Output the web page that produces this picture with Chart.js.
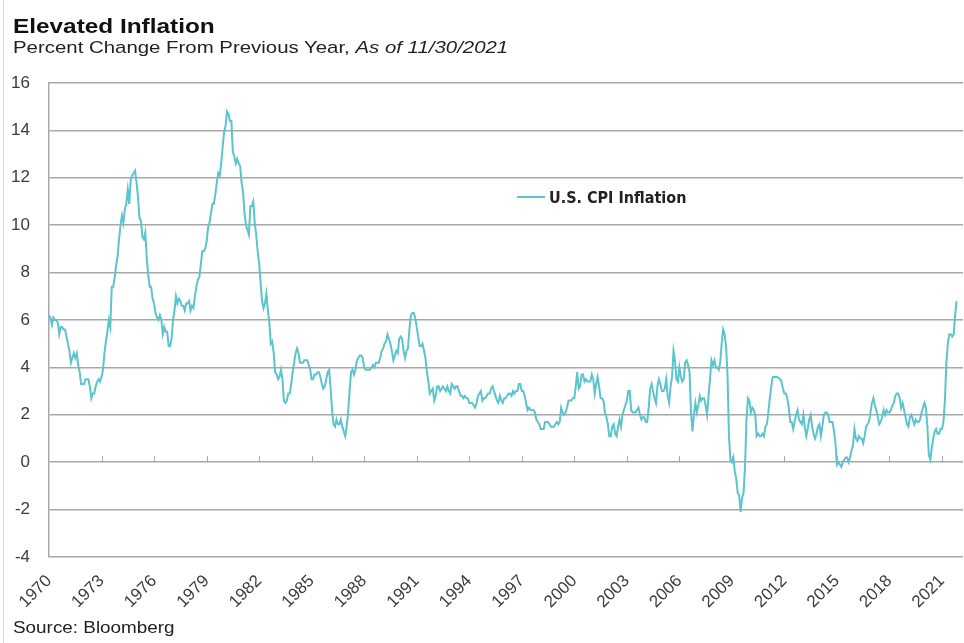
<!DOCTYPE html>
<html>
<head>
<meta charset="utf-8">
<script src="https://cdn.jsdelivr.net/npm/chart.js@4.4.0/dist/chart.umd.min.js"></script>
<style>
    body { margin: 0; background: #fff; font-family: 'Liberation Sans', Arial, sans-serif; }
    #wrap { position: relative; width: 964px; height: 643px; overflow: hidden; }
    #edge { position: absolute; left: 3px; top: 0; width: 1px; height: 643px; background: #d8d8d8; }
    .txt { position: absolute; left: 13px; line-height: 1; white-space: nowrap; transform-origin: 0 0; }
    .title { top: 15px; font-size: 21px; font-weight: bold; color: #111; transform: scaleX(1.16); }
    .subtitle { top: 39px; font-size: 17px; color: #222; transform: scaleX(1.2); }
    .source { top: 620px; font-size: 16px; color: #222; transform: scaleX(1.18); }
    .legend { position: absolute; left: 517px; top: 187px; height: 20px; display: flex; align-items: center; }
    .legend .swatch { width: 28px; height: 2px; margin-right: 4px; }
    .legend .label { font-family: 'Liberation Sans Narrow', 'DejaVu Sans Condensed', sans-serif; font-weight: bold; font-size: 16px; color: #222; }
</style>
</head>
<body>
<div id="wrap">
    <canvas id="cpi-chart" width="964" height="643"></canvas>
    <div id="edge"></div>
    <div class="txt title">Elevated Inflation</div>
    <div class="txt subtitle">Percent Change From Previous Year, <i>As of 11/30/2021</i></div>
    <div class="txt source">Source: Bloomberg</div>
    <div class="legend"><span class="swatch" id="legend-swatch"></span><span class="label" id="legend-label"></span></div>
</div>
<script>
// U.S. CPI, % change from previous year, monthly from Jan 1970 to Nov 2021
const startYear = 1970;
const seriesName = "U.S. CPI Inflation";

const cpi1970s = [
    6.2, 6.1, 5.8, 6.1, 6.0, 6.0, 5.9, 5.4, 5.7, 5.7, 5.6, 5.6,
    5.3, 5.0, 4.7, 4.2, 4.4, 4.6, 4.4, 4.6, 4.1, 3.8, 3.3, 3.3,
    3.3, 3.5, 3.5, 3.5, 3.2, 2.7, 2.9, 2.9, 3.2, 3.4, 3.5, 3.4,
    3.6, 3.9, 4.6, 5.1, 5.5, 6.0, 5.7, 7.4, 7.4, 7.8, 8.3, 8.7,
    9.4, 10.0, 10.4, 10.1, 10.7, 10.9, 11.5, 10.9, 11.9, 12.1, 12.2, 12.3,
    11.8, 11.2, 10.3, 10.2, 9.5, 9.4, 9.7, 8.6, 7.9, 7.4, 7.4, 6.9,
    6.7, 6.3, 6.1, 6.0, 6.2, 6.0, 5.4, 5.7, 5.5, 5.5, 4.9, 4.9,
    5.2, 6.0, 6.4, 7.0, 6.7, 6.9, 6.8, 6.6, 6.6, 6.4, 6.7, 6.7,
    6.8, 6.4, 6.6, 6.5, 7.0, 7.4, 7.7, 7.8, 8.3, 8.9, 8.9, 9.0,
    9.3, 9.9, 10.1, 10.5, 10.9, 10.9, 11.3, 11.8, 12.2, 12.1, 12.6, 13.3
];
const cpi1980s = [
    13.9, 14.2, 14.8, 14.7, 14.4, 14.4, 13.1, 12.9, 12.6, 12.8, 12.6, 12.5,
    11.8, 11.4, 10.5, 10.0, 9.8, 9.6, 10.8, 10.8, 11.0, 10.1, 9.6, 8.9,
    8.4, 7.6, 6.8, 6.5, 6.7, 7.1, 6.4, 5.9, 5.0, 5.1, 4.6, 3.8,
    3.7, 3.5, 3.6, 3.9, 3.5, 2.6, 2.5, 2.6, 2.9, 2.9, 3.3, 3.8,
    4.2, 4.6, 4.8, 4.6, 4.2, 4.2, 4.2, 4.3, 4.3, 4.3, 4.1, 3.9,
    3.5, 3.5, 3.7, 3.7, 3.8, 3.8, 3.6, 3.3, 3.1, 3.2, 3.5, 3.8,
    3.9, 3.1, 2.2, 1.6, 1.5, 1.8, 1.6, 1.6, 1.8, 1.5, 1.3, 1.1,
    1.5, 2.1, 3.0, 3.8, 3.9, 3.7, 3.9, 4.3, 4.4, 4.5, 4.5, 4.4,
    4.0, 3.9, 3.9, 3.9, 3.9, 4.0, 4.1, 4.0, 4.2, 4.2, 4.2, 4.4,
    4.7, 4.8, 5.0, 5.1, 5.4, 5.2, 5.0, 4.7, 4.3, 4.5, 4.7, 4.6
];
const cpi1990s = [
    5.2, 5.3, 5.2, 4.7, 4.4, 4.7, 4.8, 5.6, 6.2, 6.3, 6.3, 6.1,
    5.7, 5.3, 4.9, 4.9, 5.0, 4.7, 4.4, 3.8, 3.4, 2.9, 3.0, 3.1,
    2.6, 2.8, 3.2, 3.2, 3.0, 3.1, 3.2, 3.1, 3.0, 3.2, 3.0, 2.9,
    3.3, 3.2, 3.1, 3.2, 3.2, 3.0, 2.8, 2.8, 2.7, 2.8, 2.7, 2.7,
    2.5, 2.5, 2.5, 2.4, 2.3, 2.5, 2.8, 2.9, 3.0, 2.6, 2.7, 2.7,
    2.8, 2.9, 2.9, 3.1, 3.2, 3.0, 2.8, 2.6, 2.5, 2.8, 2.6, 2.5,
    2.7, 2.7, 2.8, 2.9, 2.9, 2.8, 3.0, 2.9, 3.0, 3.0, 3.3, 3.3,
    3.0, 3.0, 2.8, 2.5, 2.2, 2.3, 2.2, 2.2, 2.2, 2.1, 1.8, 1.7,
    1.6, 1.4, 1.4, 1.4, 1.7, 1.7, 1.7, 1.6, 1.5, 1.5, 1.5, 1.6,
    1.7, 1.6, 1.7, 2.3, 2.1, 2.0, 2.1, 2.3, 2.6, 2.6, 2.6, 2.7
];
const cpi2000s = [
    2.7, 3.2, 3.8, 3.1, 3.2, 3.7, 3.7, 3.4, 3.5, 3.4, 3.4, 3.4,
    3.7, 3.5, 2.9, 3.3, 3.6, 3.2, 2.7, 2.7, 2.6, 2.1, 1.9, 1.6,
    1.1, 1.1, 1.5, 1.6, 1.2, 1.1, 1.5, 1.8, 1.5, 2.0, 2.2, 2.4,
    2.6, 3.0, 3.0, 2.2, 2.1, 2.1, 2.1, 2.2, 2.3, 2.0, 1.8, 1.9,
    1.9, 1.7, 1.7, 2.3, 3.1, 3.3, 3.0, 2.7, 2.5, 3.2, 3.5, 3.3,
    3.0, 3.0, 3.1, 3.5, 2.8, 2.5, 3.2, 3.6, 4.7, 4.3, 3.5, 3.4,
    4.0, 3.6, 3.4, 3.5, 4.2, 4.3, 4.1, 3.8, 2.1, 1.3, 2.0, 2.5,
    2.1, 2.4, 2.8, 2.6, 2.7, 2.7, 2.4, 2.0, 2.8, 3.5, 4.3, 4.1,
    4.3, 4.0, 4.0, 3.9, 4.2, 5.0, 5.6, 5.4, 4.9, 3.7, 1.1, 0.1,
    0.0, 0.2, -0.4, -0.7, -1.3, -1.4, -2.1, -1.5, -1.3, -0.2, 1.8, 2.7
];
const cpi2010s = [
    2.6, 2.1, 2.3, 2.2, 2.0, 1.1, 1.2, 1.1, 1.1, 1.2, 1.1, 1.5,
    1.6, 2.1, 2.7, 3.2, 3.6, 3.6, 3.6, 3.6, 3.55, 3.5, 3.4, 3.1,
    2.9, 2.9, 2.7, 2.3, 1.7, 1.7, 1.4, 1.7, 2.0, 2.2, 1.8, 1.7,
    1.6, 2.0, 1.5, 1.1, 1.4, 1.8, 2.0, 1.5, 1.2, 1.0, 1.2, 1.5,
    1.6, 1.1, 1.5, 2.0, 2.1, 2.1, 2.0, 1.7, 1.7, 1.7, 1.3, 0.8,
    -0.1, 0.0, -0.1, -0.2, 0.0, 0.1, 0.2, 0.2, 0.0, 0.2, 0.5, 0.7,
    1.4, 1.0, 0.9, 1.1, 1.0, 1.0, 0.8, 1.1, 1.5, 1.6, 1.7, 2.1,
    2.5, 2.7, 2.4, 2.2, 1.9, 1.6, 1.7, 1.9, 2.2, 2.0, 2.2, 2.1,
    2.1, 2.2, 2.4, 2.5, 2.8, 2.9, 2.9, 2.7, 2.3, 2.5, 2.2, 1.9,
    1.6, 1.5, 1.9, 2.0, 1.8, 1.6, 1.8, 1.7, 1.7, 1.8, 2.1, 2.3
];
const cpi2020s = [
    2.5, 2.3, 1.5, 0.3, 0.1, 0.6, 1.0, 1.3, 1.4, 1.2, 1.2, 1.4,
    1.4, 1.7, 2.6, 4.2, 5.0, 5.4, 5.4, 5.3, 5.4, 6.2, 6.8
];

const xTickYears = [1970, 1973, 1976, 1979, 1982, 1985, 1988, 1991, 1994, 1997,
                    2000, 2003, 2006, 2009, 2012, 2015, 2018, 2021];
const yTicks = [-4, -2, 0, 2, 4, 6, 8, 10, 12, 14, 16];

const lineColor = '#5bc4cc';
const gridColor = '#a8a8a8';
const tickColor = '#3c3c3c';

const allValues = cpi1970s.concat(cpi1980s, cpi1990s, cpi2000s, cpi2010s, cpi2020s);
const points = allValues.map((v, i) => ({ x: startYear + i / 12, y: v }));

document.getElementById('legend-swatch').style.background = lineColor;
document.getElementById('legend-label').textContent = seriesName;

// small tick marks sitting on the zero line, like the original
const zeroTicks = {
    id: 'zeroTicks',
    beforeDatasetsDraw(chart) {
        const ctx = chart.ctx;
        const x = chart.scales.x;
        const y0 = chart.scales.y.getPixelForValue(0);
        ctx.save();
        ctx.strokeStyle = gridColor;
        ctx.lineWidth = 1;
        x.ticks.forEach((t, i) => {
            if (i === 0) return;
            const px = Math.round(x.getPixelForValue(t.value)) + 0.5;
            ctx.beginPath();
            ctx.moveTo(px, y0);
            ctx.lineTo(px, y0 - 6);
            ctx.stroke();
        });
        ctx.restore();
    }
};

Chart.defaults.font.family = "'Liberation Sans', Arial, sans-serif";

var ctx = document.getElementById('cpi-chart');
var cpiChart = new Chart(ctx, {
    type: 'line',
    data: {
        datasets: [{
            label: seriesName,
            data: points,
            borderColor: lineColor,
            borderWidth: 2,
            pointRadius: 0,
            tension: 0,
            fill: false
        }]
    },
    options: {
        responsive: false,
        animation: false,
        layout: { padding: { top: 83, right: 1, bottom: 0, left: 0 } },
        plugins: {
            legend: { display: false },
            tooltip: { enabled: false }
        },
        scales: {
            x: {
                type: 'linear',
                min: 1970,
                max: 2022.2,
                afterBuildTicks: scale => {
                    scale.ticks = xTickYears.map(v => ({ value: v }));
                },
                afterFit: scale => {
                    scale.height = 86;
                    // labels end at their tick, so the plot can run to the edge
                    scale.paddingLeft = 0;
                    scale.paddingRight = 0;
                },
                grid: { display: false, drawTicks: false },
                border: { display: false },
                ticks: {
                    color: tickColor,
                    font: { size: 17 },
                    minRotation: 45,
                    maxRotation: 45,
                    padding: 14,
                    callback: v => String(v)
                }
            },
            y: {
                min: -4,
                max: 16,
                afterBuildTicks: scale => {
                    scale.ticks = yTicks.map(v => ({ value: v }));
                },
                afterFit: scale => { scale.width = 49; },
                grid: { color: gridColor, lineWidth: 1.5, drawTicks: false },
                border: { display: true, color: gridColor, width: 1.5 },
                ticks: {
                    color: tickColor,
                    font: { size: 17 },
                    padding: 19
                }
            }
        }
    },
    plugins: [zeroTicks]
});
</script>
</body>
</html>
